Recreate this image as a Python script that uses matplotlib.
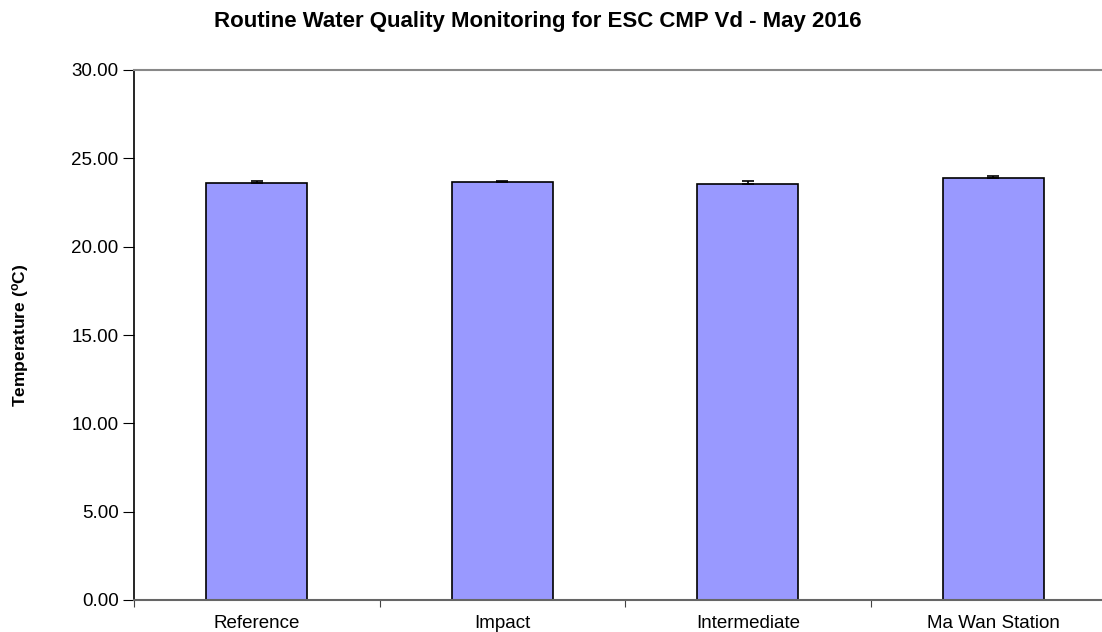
import matplotlib.pyplot as plt
import numpy as np

plt.rcParams['font.family'] = ['Liberation Sans', 'DejaVu Sans']

# 数据
stations = ['Reference', 'Impact', 'Intermediate', 'Ma Wan Station']
temperature = [23.62, 23.64, 23.55, 23.89]
temp_err = [0.08, 0.09, 0.19, 0.09]

fig = plt.figure(figsize=(11.02, 6.32), dpi=100)
# 右边界略超出画布（原图被裁切）
ax = fig.add_axes([134 / 1102, 32 / 632, 982 / 1102, 530 / 632])

x = np.arange(len(stations))
ax.bar(x, temperature, width=0.41, color='#9999ff', edgecolor='black', linewidth=1.2, zorder=2)
ax.errorbar(x, temperature, yerr=[np.zeros(len(temp_err)), temp_err], fmt='none',
            ecolor='black', elinewidth=1.2, capsize=4, capthick=1.2, zorder=3)

ax.set_xlim(-0.5, len(stations) - 0.5)
ax.set_ylim(0, 30)
ax.set_yticks(np.arange(0, 30.01, 5))
ax.set_yticklabels([f'{v:.2f}' for v in np.arange(0, 30.01, 5)], fontsize=13.5)

# x轴：刻度放在类别分界处，标签放在中间
ax.set_xticks(np.arange(-0.5, len(stations), 1.0))
ax.set_xticklabels([])
ax.set_xticks(x, minor=True)
ax.set_xticklabels(stations, minor=True, fontsize=13.5)
ax.tick_params(axis='x', which='minor', length=0, pad=11)
ax.tick_params(axis='x', which='major', length=5, color='#444444')
ax.tick_params(axis='y', length=8, direction='out', pad=3)

ax.spines['right'].set_visible(False)
ax.spines['top'].set_color('#888888')
ax.spines['top'].set_linewidth(1.5)
ax.spines['bottom'].set_color('#666666')
ax.spines['bottom'].set_linewidth(1.5)
ax.spines['left'].set_color('black')
ax.spines['left'].set_linewidth(1.2)

ax.set_ylabel('Temperature ($\\mathregular{^{o}}$C)', fontsize=12.5, fontweight='bold', labelpad=29)
fig.text(538 / 1102, 1 - 22 / 632, 'Routine Water Quality Monitoring for ESC CMP Vd - May 2016',
         ha='center', va='center', fontsize=16, fontweight='bold')

plt.savefig('out.png', dpi=100)
